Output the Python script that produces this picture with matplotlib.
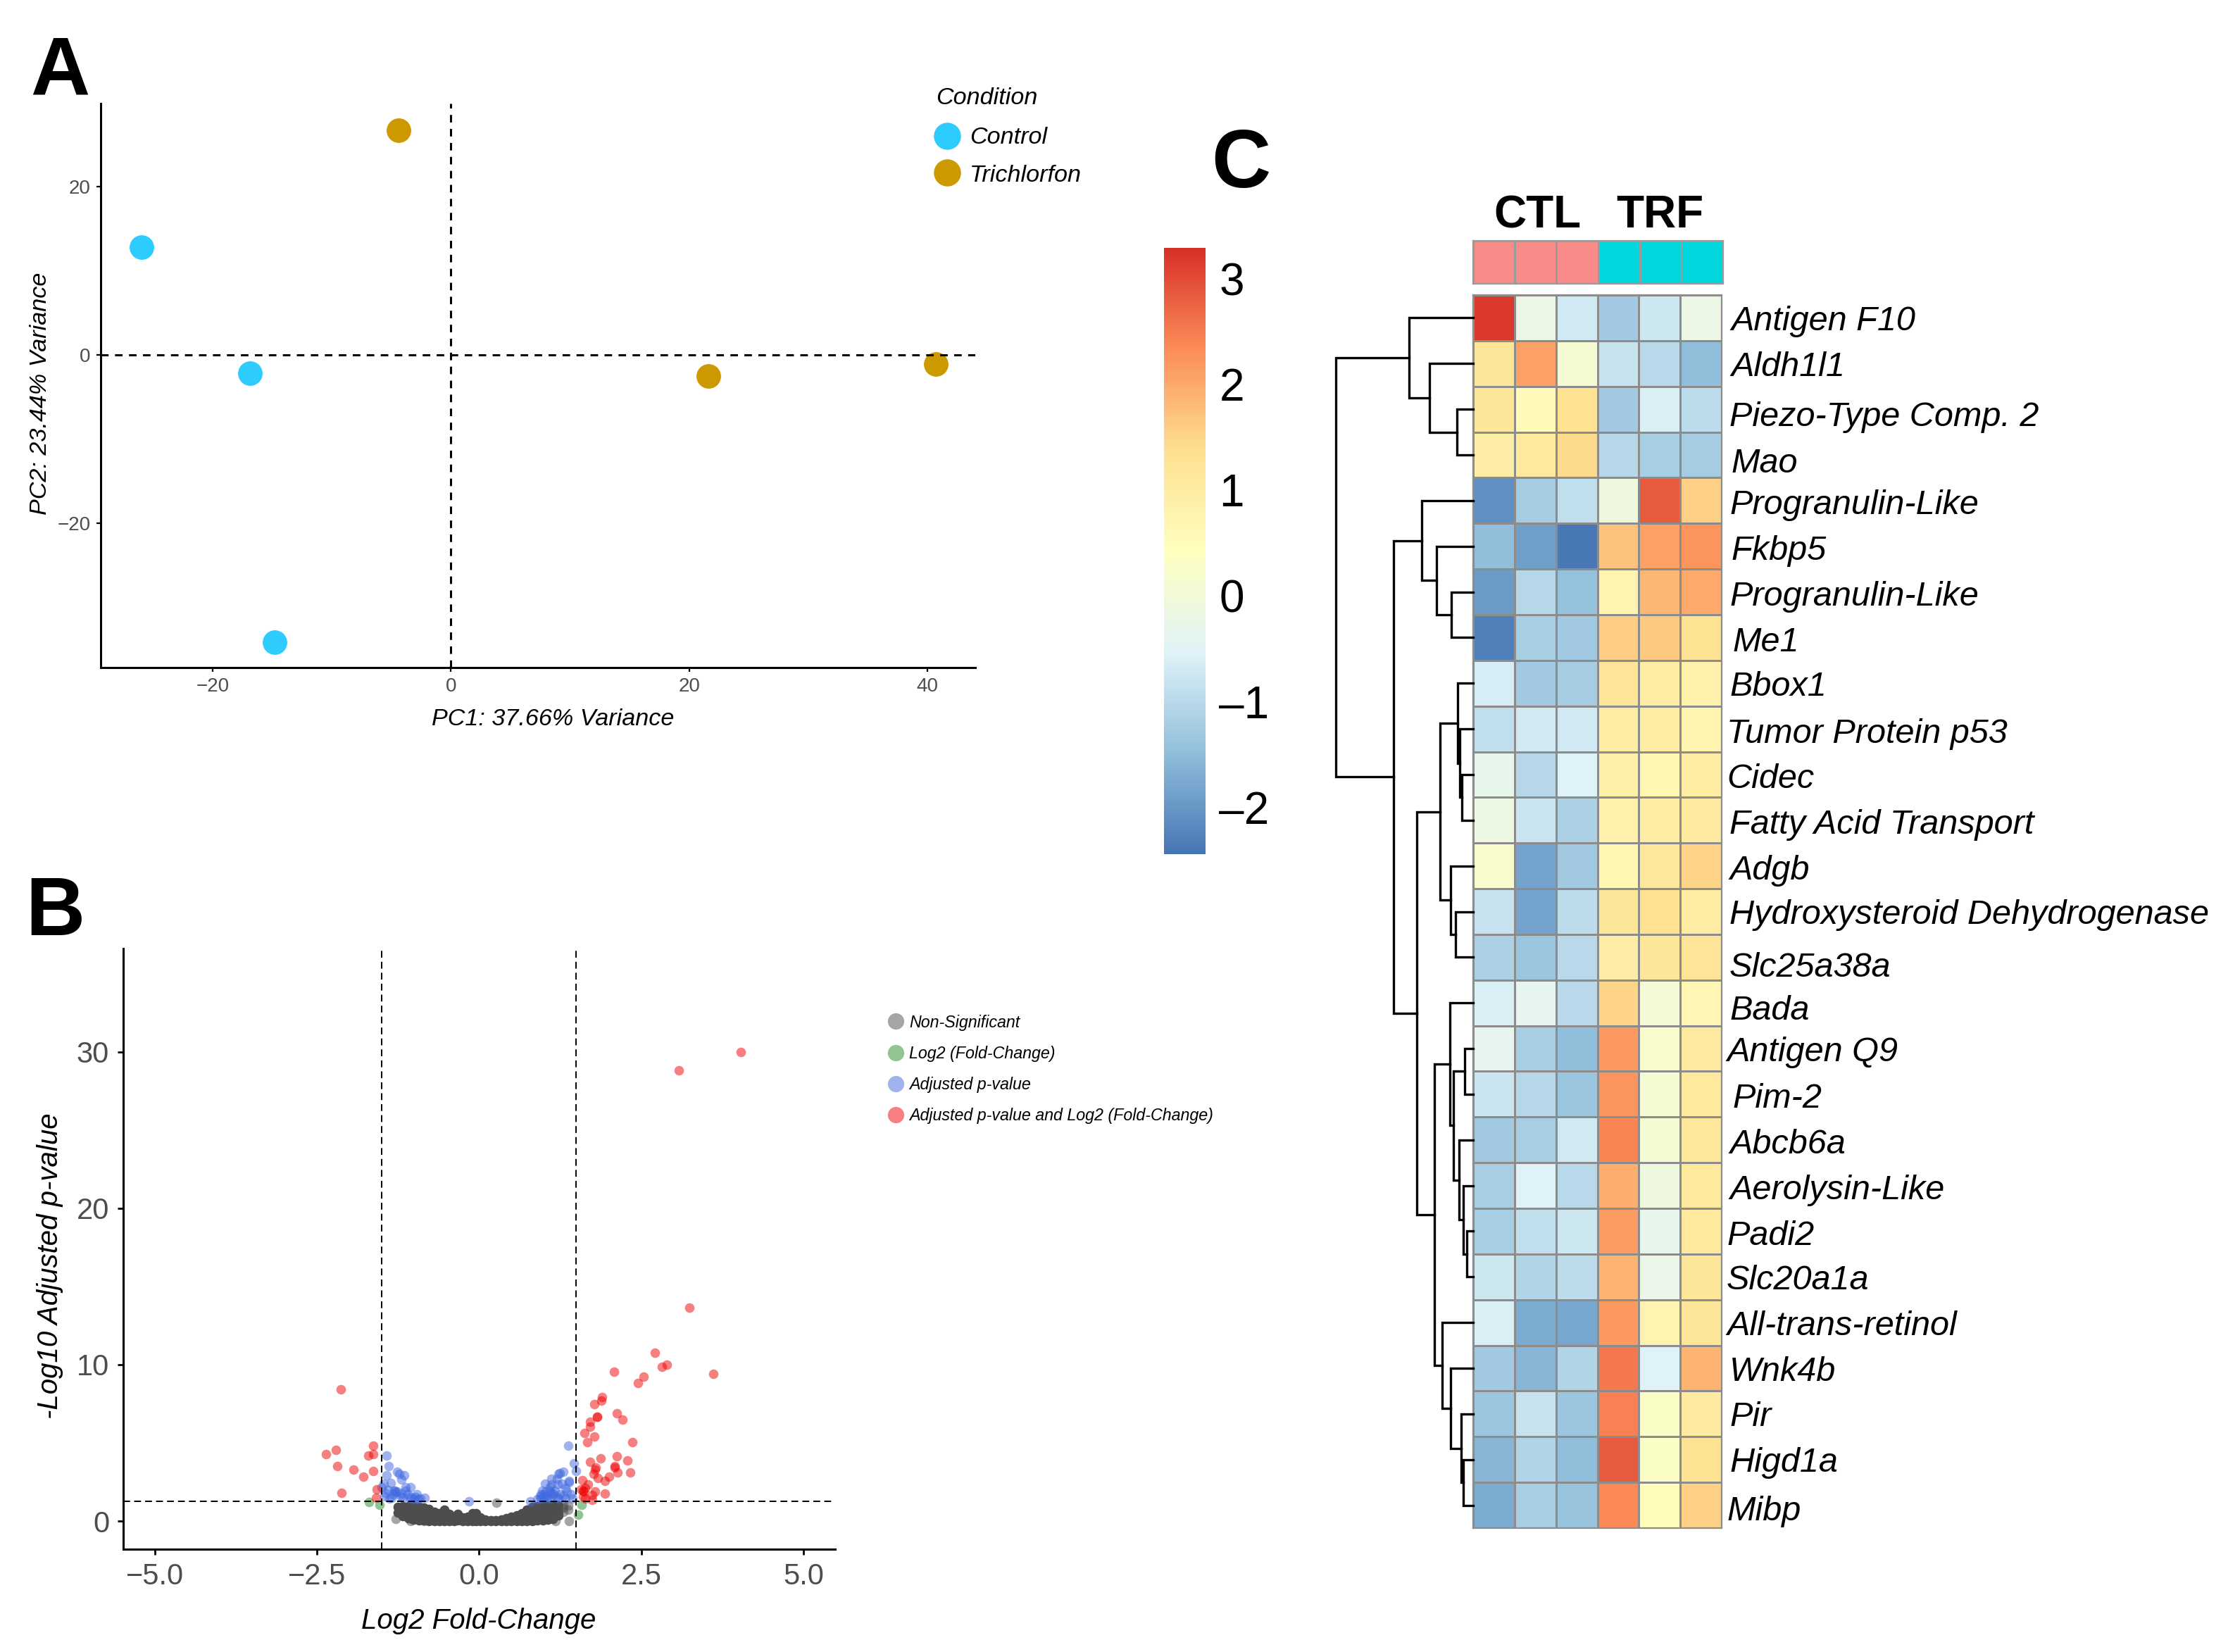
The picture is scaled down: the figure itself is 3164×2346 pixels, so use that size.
import matplotlib
matplotlib.use("Agg")
import matplotlib.pyplot as plt
from matplotlib.colors import LinearSegmentedColormap, ListedColormap

plt.rcParams["font.family"] = ["Liberation Sans", "DejaVu Sans"]

W, H = 3164, 2346
GREY_TXT = "#4d4d4d"

# Panel A: PCA
control_x = [-26.0, -16.9, -14.8]
control_y = [12.8, -2.2, -34.2]
trich_x = [-4.4, 21.6, 40.7]
trich_y = [26.7, -2.5, -1.1]

# Panel B: volcano
red_x = [4.03, 3.08, 3.24, 2.71, 2.82, 2.90, 3.61, 2.08, 2.54, 2.45, 1.90, 1.89, 1.78, 1.82, 1.82,
         2.12, 2.21, 1.71, 1.71, 1.63, 1.78, 1.67, 2.36, 1.87, 2.12, 2.29, 1.71, 1.80, 1.79, 2.09,
         2.09, 2.14, 2.33, 1.77, 1.83, 2.01, 1.94, 1.59, 1.68, 1.64, 1.60, 1.57, 1.61, 1.79, 1.74,
         1.94, 1.60, 1.64, 1.74,
         -2.13, -2.36, -2.21, -2.18, -1.94, -1.78, -1.71, -1.63, -1.63, -1.63, -2.12, -1.58, -1.59]
red_y = [30.0, 28.8, 13.62, 10.74, 9.87, 10.0, 9.4, 9.55, 9.22, 8.83, 7.94, 7.69, 7.48, 6.67, 6.67,
         6.89, 6.5, 6.35, 6.04, 5.62, 5.39, 5.03, 5.06, 3.99, 4.13, 3.87, 3.78, 3.42, 3.3, 3.53,
         3.42, 3.09, 3.09, 3.0, 2.73, 2.82, 2.58, 2.6, 2.33, 2.1, 1.95, 2.03, 1.88, 1.88, 1.68,
         1.74, 1.58, 1.43, 1.35,
         8.44, 4.28, 4.53, 3.53, 3.27, 2.82, 4.2, 4.28, 4.83, 3.2, 1.8, 2.03, 1.5]
green_x = [-1.70, -1.53, 1.58, 1.53]
green_y = [1.23, 1.02, 1.02, 0.39]
blue_x = [-1.43, -1.39, -1.43, -1.26, -1.23, -1.15, -1.2, -1.36, -1.47, -1.5, -1.13, -1.06, -1.30, -1.30,
          -1.26, -1.13, -1.1, -0.96, -0.98, -0.84, -1.21, -1.38, -1.46, -1.07, -0.94, -0.16,
          -1.32, -1.28, -1.35, -1.17, -1.2, -1.05, -1.0, -0.9, -1.4, -1.45,
          1.38, 1.46, 1.5, 1.3, 1.22, 1.25, 1.11, 1.39, 1.39, 1.02, 1.21, 1.09, 1.33, 0.97, 1.03, 1.09,
          1.17, 0.95, 0.94, 1.03, 1.14, 1.25, 1.42, 1.44, 0.79, 0.95, 1.09, 1.22, 1.33,
          1.05, 1.15, 1.3, 1.0, 1.1, 1.2, 1.35, 0.9, 1.0, 1.28, 1.12, 1.2]
blue_y = [4.2, 3.53, 2.93, 3.15, 3.0, 2.94, 2.66, 2.45, 2.4, 2.18, 2.18, 2.18, 1.95, 1.95,
          1.88, 1.95, 1.73, 1.73, 1.53, 1.5, 1.58, 1.43, 1.58, 1.43, 1.38, 1.28,
          1.7, 1.85, 1.5, 1.5, 1.75, 1.55, 1.4, 1.45, 2.0, 1.8,
          4.83, 3.68, 3.2, 3.15, 3.0, 3.08, 2.7, 2.58, 2.48, 2.4, 2.33, 2.18, 2.1, 1.95, 1.88, 1.95,
          1.95, 1.73, 1.58, 1.58, 1.65, 1.73, 1.73, 1.43, 1.28, 1.43, 1.43, 1.43, 1.43,
          1.5, 1.75, 1.6, 1.45, 1.8, 1.55, 1.9, 1.4, 1.7, 2.4, 2.35, 2.7]
grey_x = [-1.25, -1.25, -1.17, -1.17, -1.17, -1.09, -1.09, -1.09, -1.01, -1.01, -1.01, -1.01,
          -0.93, -0.93, -0.93, -0.93, -0.85, -0.85, -0.85, -0.85, -0.77, -0.77, -0.77, -0.77,
          -0.69, -0.69, -0.69, -0.69, -0.61, -0.61, -0.61, -0.61, -0.54, -0.54, -0.54, -0.54,
          -0.46, -0.46, -0.46, -0.46, -0.38, -0.38, -0.38, -0.33, -0.33, -0.33, -0.25, -0.25, -0.25,
          -0.18, -0.18, -0.18, -0.10, -0.10, -0.10, -0.10, -0.05, -0.05, -0.05, 0.02, 0.02, 0.02,
          0.10, 0.10, 0.18, 0.18, 0.26, 0.26, 0.34, 0.34, 0.42, 0.42, 0.42, 0.50, 0.50, 0.50,
          0.58, 0.58, 0.58, 0.66, 0.66, 0.66, 0.74, 0.74, 0.74, 0.74, 0.82, 0.82, 0.82, 0.82,
          0.90, 0.90, 0.90, 0.90, 0.98, 0.98, 0.98, 0.98, 1.06, 1.06, 1.06, 1.06,
          1.14, 1.14, 1.14, 1.14, 1.22, 1.22, 1.22]
grey_y = [0.55, 0.9, 0.3, 0.6, 0.95, 0.2, 0.5, 0.95, 0.1, 0.4, 0.7, 0.95,
          0.05, 0.3, 0.6, 0.9, 0.03, 0.25, 0.55, 0.85, 0.02, 0.2, 0.5, 0.75,
          0.02, 0.15, 0.35, 0.6, 0.01, 0.12, 0.3, 0.48, 0.01, 0.15, 0.4, 0.72,
          0.01, 0.12, 0.3, 0.45, 0.01, 0.1, 0.25, 0.05, 0.25, 0.45, 0.01, 0.1, 0.22,
          0.01, 0.1, 0.25, 0.01, 0.15, 0.35, 0.5, 0.02, 0.25, 0.5, 0.01, 0.1, 0.22,
          0.01, 0.08, 0.01, 0.06, 0.01, 0.06, 0.01, 0.08, 0.01, 0.1, 0.2, 0.01, 0.12, 0.28,
          0.01, 0.15, 0.38, 0.01, 0.2, 0.5, 0.02, 0.25, 0.5, 0.72, 0.02, 0.3, 0.6, 0.9,
          0.03, 0.3, 0.6, 0.95, 0.05, 0.35, 0.65, 1.0, 0.1, 0.4, 0.7, 1.0,
          0.15, 0.45, 0.75, 1.0, 0.35, 0.65, 1.0]
grey_light_x = [-1.28, -1.06, -0.85, 0.27, 1.18, 1.39, 1.30, 1.30, 1.30, 1.38, 1.38]
grey_light_y = [0.15, 0.0, 0.0, 1.16, 0.0, 0.0, 0.6, 0.85, 1.05, 0.7, 1.0]

# Panel C: heatmap
genes = ["Antigen F10", "Aldh1l1", "Piezo-Type Comp. 2", "Mao", "Progranulin-Like", "Fkbp5",
         "Progranulin-Like", "Me1", "Bbox1", "Tumor Protein p53", "Cidec", "Fatty Acid Transport",
         "Adgb", "Hydroxysteroid Dehydrogenase", "Slc25a38a", "Bada", "Antigen Q9", "Pim-2",
         "Abcb6a", "Aerolysin-Like", "Padi2", "Slc20a1a", "All-trans-retinol", "Wnk4b", "Pir",
         "Higd1a", "Mibp"]
heat = [[3.2, -0.2, -0.7, -1.3, -0.75, -0.2],
        [1.2, 2.1, 0.1, -0.85, -1.0, -1.5],
        [1.2, 0.6, 1.35, -1.3, -0.6, -0.95],
        [0.95, 1.1, 1.45, -1.05, -1.2, -1.25],
        [-2.1, -1.25, -0.9, -0.1, 2.85, 1.55],
        [-1.5, -1.9, -2.4, 1.7, 2.1, 2.25],
        [-1.95, -1.05, -1.45, 0.75, 1.85, 2.0],
        [-2.3, -1.2, -1.3, 1.6, 1.65, 1.3],
        [-0.65, -1.3, -1.25, 1.25, 1.0, 0.85],
        [-0.9, -0.7, -0.7, 1.0, 1.0, 0.75],
        [-0.3, -1.05, -0.55, 0.9, 0.7, 1.0],
        [-0.15, -0.8, -1.15, 0.85, 1.0, 1.05],
        [0.2, -1.85, -1.3, 0.7, 1.15, 1.5],
        [-0.85, -1.85, -0.95, 1.2, 1.35, 1.0],
        [-1.15, -1.35, -1.0, 0.95, 1.2, 1.25],
        [-0.6, -0.35, -1.0, 1.5, 0.05, 0.65],
        [-0.35, -1.2, -1.5, 2.2, 0.2, 1.05],
        [-0.8, -1.05, -1.35, 2.25, 0.1, 1.1],
        [-1.3, -1.2, -0.7, 2.4, 0.1, 1.15],
        [-1.2, -0.55, -1.0, 1.95, -0.1, 1.1],
        [-1.2, -0.9, -0.75, 2.15, -0.3, 1.1],
        [-0.75, -1.1, -0.95, 1.9, -0.25, 1.2],
        [-0.6, -1.75, -1.8, 2.2, 0.75, 1.2],
        [-1.3, -1.6, -1.1, 2.55, -0.55, 1.9],
        [-1.35, -0.85, -1.35, 2.45, 0.3, 1.05],
        [-1.6, -1.1, -1.5, 2.85, 0.3, 1.3],
        [-1.75, -1.2, -1.4, 2.35, 0.55, 1.55]]
groups = [[0, 0, 0, 1, 1, 1]]
# dendrogram merges: (child, child, height); ids 0-26 are rows, 27 and up are earlier merges
merges = [(2, 3, 23), (1, 27, 62), (0, 28, 91), (6, 7, 31), (5, 30, 52), (4, 31, 73),
          (10, 11, 16), (9, 33, 19), (8, 34, 22.5), (13, 14, 25), (12, 36, 32), (35, 37, 47),
          (20, 21, 9), (19, 39, 14), (18, 40, 20), (16, 17, 12), (42, 41, 28), (15, 43, 33),
          (25, 26, 14), (24, 45, 17), (23, 46, 32), (22, 47, 44.5), (44, 48, 55), (38, 49, 80),
          (32, 50, 113), (29, 51, 195)]


def px_axes(x0, y0, x1, y1, **kw):
    return fig.add_axes([x0 / W, 1 - y1 / H, (x1 - x0) / W, (y1 - y0) / H], **kw)


def clean(ax, lw):
    ax.spines["top"].set_visible(False)
    ax.spines["right"].set_visible(False)
    ax.spines["left"].set_linewidth(lw)
    ax.spines["bottom"].set_linewidth(lw)
    ax.patch.set_alpha(0)


fig = plt.figure(figsize=(W / 200, H / 200), dpi=200, facecolor="white")

# overlay in pixel coordinates for legends and free labels
ov = fig.add_axes([0, 0, 1, 1], zorder=10)
ov.set_xlim(0, W)
ov.set_ylim(H, 0)
ov.axis("off")

# ---- A
ax = px_axes(143, 147, 1385, 948)
clean(ax, 1.1)
ax.scatter(control_x, control_y, s=165, color="#2ecbff", edgecolors="white", linewidths=0.3, zorder=3)
ax.scatter(trich_x, trich_y, s=165, color="#cc9900", edgecolors="white", linewidths=0.3, zorder=3)
ax.axhline(0, color="black", ls=(0, (3.5, 3)), lw=1.1, zorder=4)
ax.axvline(0, color="black", ls=(0, (3.5, 3)), lw=1.1, zorder=4)
ax.set_xlim(-29.4, 44)
ax.set_ylim(-37.2, 29.9)
ax.set_xticks([-20, 0, 20, 40])
ax.set_xticklabels(["\u221220", "0", "20", "40"])
ax.set_yticks([-20, 0, 20])
ax.set_yticklabels(["\u221220", "0", "20"])
ax.tick_params(length=2.2, width=0.8, labelsize=10, labelcolor=GREY_TXT, pad=3)

ov.text(785, 1022, "PC1: 37.66% Variance", style="italic", fontsize=12.3, ha="center", va="center")
ov.text(58, 559, "PC2: 23.44% Variance", style="italic", fontsize=12.3, rotation=90, ha="center", va="center")
ov.text(1329, 140, "Condition", style="italic", fontsize=12.3, ha="left", va="center")
ov.scatter([1345], [193], s=165, color="#2ecbff")
ov.scatter([1345], [245], s=165, color="#cc9900")
ov.text(1377, 195, "Control", style="italic", fontsize=12.3, ha="left", va="center")
ov.text(1377, 249, "Trichlorfon", style="italic", fontsize=12.3, ha="left", va="center")

# ---- B
ax = px_axes(174.5, 1347, 1186, 2200)
clean(ax, 1.1)
ax.scatter(grey_x, grey_y, s=24, color="#4d4d4d", linewidths=0, zorder=2)
ax.scatter(grey_light_x, grey_light_y, s=24, color="#4d4d4d", alpha=0.5, linewidths=0, zorder=2)
ax.scatter(green_x, green_y, s=24, color="#228b22", alpha=0.5, linewidths=0, zorder=3)
ax.scatter(blue_x, blue_y, s=24, color="#4169e1", alpha=0.5, linewidths=0, zorder=3)
ax.scatter(red_x, red_y, s=24, color="#ee0000", alpha=0.5, linewidths=0, zorder=3)
ax.axhline(1.27, color="black", ls=(0, (5, 3)), lw=0.7, zorder=4)
ax.axvline(-1.5, color="black", ls=(0, (5, 3)), lw=0.7, zorder=4)
ax.axvline(1.5, color="black", ls=(0, (5, 3)), lw=0.7, zorder=4)
ax.set_xlim(-5.49, 5.49)
ax.set_ylim(-1.8, 36.6)
ax.set_xticks([-5, -2.5, 0, 2.5, 5])
ax.set_xticklabels(["\u22125.0", "\u22122.5", "0.0", "2.5", "5.0"])
ax.set_yticks([0, 10, 20, 30])
ax.tick_params(length=3, width=1, labelsize=15, labelcolor=GREY_TXT, pad=4)

ov.text(680, 2302, "Log2 Fold-Change", style="italic", fontsize=14.5, ha="center", va="center")
ov.text(71, 1798, "-Log10 Adjusted p-value", style="italic", fontsize=14.5, rotation=90, ha="center", va="center")
legend_labels = ["Non-Significant", "Log2 (Fold-Change)", "Adjusted p-value", "Adjusted p-value and Log2 (Fold-Change)"]
legend_colors = ["#4d4d4d", "#228b22", "#4169e1", "#ee0000"]
for lab, col, yy in zip(legend_labels, legend_colors, [1450, 1495, 1539, 1583]):
    ov.scatter([1272], [yy], s=70, color=col, alpha=0.5, linewidths=0)
    ov.text(1291, yy + 2, lab, style="italic", fontsize=8.4, ha="left", va="center")

# ---- C
cmap = LinearSegmentedColormap.from_list(
    "rdylbu", ["#4575b4", "#91bfdb", "#e0f3f8", "#ffffbf", "#fee090", "#fc8d59", "#d73027"])
nrow = len(genes)

ax = px_axes(2092, 419, 2445, 2170)
mesh = ax.pcolormesh(heat, cmap=cmap, vmin=-2.445, vmax=3.29, edgecolors="#8c8c8c", linewidth=1.0)
ax.set_ylim(nrow, 0)
ax.set_xticks([])
ax.set_yticks([])
for s in ax.spines.values():
    s.set_color("#8c8c8c")

ax = px_axes(2092, 342, 2447, 403)
ax.pcolormesh(groups, cmap=ListedColormap(["#f98b88", "#00d6dd"]), edgecolors="#9a9a9a", linewidth=0.5)
ax.set_xticks([])
ax.set_yticks([])
for s in ax.spines.values():
    s.set_color("#9a9a9a")

# dendrogram
ax = px_axes(1880, 419, 2092, 2170)
ax.set_xlim(212, 0)
ax.set_ylim(nrow, 0)
ax.axis("off")
node_h = {i: 0 for i in range(nrow)}
node_y = {i: i + 0.5 for i in range(nrow)}
for k, (a, b, h) in enumerate(merges):
    ax.plot([node_h[a], h, h, node_h[b]], [node_y[a], node_y[a], node_y[b], node_y[b]],
            color="black", lw=1.2, solid_joinstyle="miter", clip_on=False)
    node_h[nrow + k] = h
    node_y[nrow + k] = (node_y[a] + node_y[b]) / 2

# colour bar
cax = px_axes(1653, 352, 1712, 1213)
cb = fig.colorbar(mesh, cax=cax)
cb.outline.set_visible(False)
cb.set_ticks([3, 2, 1, 0, -1, -2])
cb.set_ticklabels(["3", "2", "1", "0", "\u20131", "\u20132"])
cax.tick_params(length=0, pad=7, labelsize=23)

# small shifts of the hand-placed gene labels (pixels)
gene_dx = [0, 0, -2, 0, -2, 0, -2, 2, -2, -6, -6, -2, -2, -2, -2, -2, -6, 2, -2, -2, -6, -6, -6, -2, -2, -2, -6]
gene_dy = [5, 5, 11, 13, 7, 7, 7, 7, 5, 7, 7, 7, 7, 5, 15, 11, 5, 7, 7, 7, 7, 5, 5, 5, 5, 5, 9]
row_h = (2170 - 419) / nrow
for i, name in enumerate(genes):
    ov.text(2458 + gene_dx[i], 419 + row_h * (i + 0.5) + gene_dy[i], name,
            style="italic", fontsize=17.5, ha="left", va="center")

ov.text(2183, 306, "CTL", weight="bold", fontsize=23, ha="center", va="center")
ov.text(2357, 306, "TRF", weight="bold", fontsize=23, ha="center", va="center")

# panel letters
ov.text(85, 135, "A", weight="bold", fontsize=42, ha="center", va="baseline")
ov.text(78, 1328, "B", weight="bold", fontsize=42, ha="center", va="baseline")
ov.text(1762, 266, "C", weight="bold", fontsize=42, ha="center", va="baseline")

fig.savefig("out.png", dpi=200)
